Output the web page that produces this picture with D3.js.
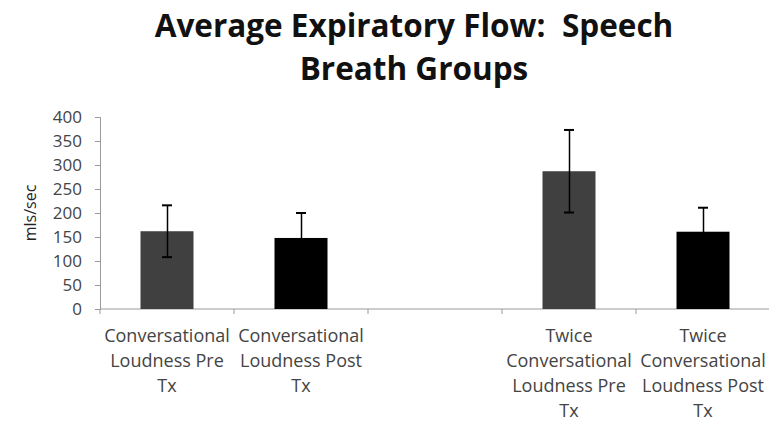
<!DOCTYPE html>
<html>
<head>
<meta charset="utf-8">
<script src="https://cdn.jsdelivr.net/npm/d3@7"></script>
<style>
body { margin: 0; background: #fff; }
text { font-family: "Open Sans", "Lato", sans-serif; }
</style>
</head>
<body>
<svg width="769" height="427"></svg>
<script>
var svg = d3.select("svg"),
width = +svg.attr("width"),
height = +svg.attr("height");

// bands, one left empty between the two loudness groups
var categories = ["c1", "c2", "gap", "c3", "c4"];
var labels = [
  ["Conversational", "Loudness Pre", "Tx"],
  ["Conversational", "Loudness Post", "Tx"],
  [],
  ["Twice", "Conversational", "Loudness Pre", "Tx"],
  ["Twice", "Conversational", "Loudness Post", "Tx"]
];
var barCats = ["c1", "c2", "c3", "c4"];
var means = [162, 148, 287, 161];
var errors = [54, 52, 86, 50];
var colors = ["#404040", "#000000", "#404040", "#000000"];
var yTicks = [0, 50, 100, 150, 200, 250, 300, 350, 400];

var x = d3.scaleBand()
.domain(categories)
.range([100, 770]);

var y = d3.scaleLinear()
.domain([0, 400])
.range([309, 117]);

// title
svg.append("text")
.attr("x", 414).attr("y", 37)
.attr("text-anchor", "middle")
.attr("font-size", 31.5).attr("font-weight", "bold")
.attr("fill", "#111")
.style("white-space", "pre")
.text("Average Expiratory Flow:  Speech");
svg.append("text")
.attr("x", 414).attr("y", 80)
.attr("text-anchor", "middle")
.attr("font-size", 31.5).attr("font-weight", "bold")
.attr("fill", "#111")
.text("Breath Groups");

// y axis
var yAxis = svg.append("g")
.attr("transform", "translate(100,0)")
.call(d3.axisLeft(y).tickValues(yTicks).tickSize(5).tickPadding(13));
yAxis.select(".domain").attr("stroke", "#999");
yAxis.selectAll(".tick line").attr("stroke", "#999");
yAxis.selectAll(".tick text").attr("font-size", 17).attr("fill", "#444");

svg.append("text")
.attr("transform", "translate(36,213) rotate(-90)")
.attr("text-anchor", "middle")
.attr("font-size", 16).attr("fill", "#222")
.text("mls/sec");

// x axis line and band ticks
svg.append("line")
.attr("x1", 100).attr("x2", 770)
.attr("y1", y(0)).attr("y2", y(0))
.attr("stroke", "#999");
svg.selectAll(".xtick")
.data(categories.concat(["end"]))
.enter().append("line")
.attr("class", "xtick")
.attr("x1", function(d, i) { return 100 + i * x.step(); })
.attr("x2", function(d, i) { return 100 + i * x.step(); })
.attr("y1", y(0)).attr("y2", y(0) + 5)
.attr("stroke", "#999");

// bars
var bw = 53;
svg.selectAll(".bar")
.data(barCats)
.enter().append("rect")
.attr("class", "bar")
.attr("x", function(d) { return x(d) + x.bandwidth() / 2 - bw / 2; })
.attr("y", function(d, i) { return y(means[i]); })
.attr("width", bw)
.attr("height", function(d, i) { return y(0) - y(means[i]); })
.attr("fill", function(d, i) { return colors[i]; });

// error bars (black, so they vanish inside the black bars)
var eb = svg.selectAll(".err")
.data(barCats)
.enter().append("g")
.attr("class", "err")
.attr("stroke", "#000")
.attr("stroke-width", 1.5);
eb.append("line")
.attr("x1", function(d) { return Math.round(x(d) + x.bandwidth() / 2) + 0.5; })
.attr("x2", function(d) { return Math.round(x(d) + x.bandwidth() / 2) + 0.5; })
.attr("y1", function(d, i) { return y(means[i] - errors[i]); })
.attr("y2", function(d, i) { return y(means[i] + errors[i]); });
eb.append("line")
.attr("x1", function(d) { return x(d) + x.bandwidth() / 2 - 5; })
.attr("x2", function(d) { return x(d) + x.bandwidth() / 2 + 5; })
.attr("y1", function(d, i) { return y(means[i] + errors[i]); })
.attr("y2", function(d, i) { return y(means[i] + errors[i]); })
.attr("stroke-width", 2);
eb.append("line")
.attr("x1", function(d) { return x(d) + x.bandwidth() / 2 - 5; })
.attr("x2", function(d) { return x(d) + x.bandwidth() / 2 + 5; })
.attr("y1", function(d, i) { return y(means[i] - errors[i]); })
.attr("y2", function(d, i) { return y(means[i] - errors[i]); })
.attr("stroke-width", 2);

// category labels
categories.forEach(function(c, i) {
  labels[i].forEach(function(line, j) {
    svg.append("text")
    .attr("x", x(c) + x.bandwidth() / 2)
    .attr("y", 342 + j * 25)
    .attr("text-anchor", "middle")
    .attr("font-size", 18)
    .attr("fill", "#444")
    .text(line);
  });
});
</script>
</body>
</html>
